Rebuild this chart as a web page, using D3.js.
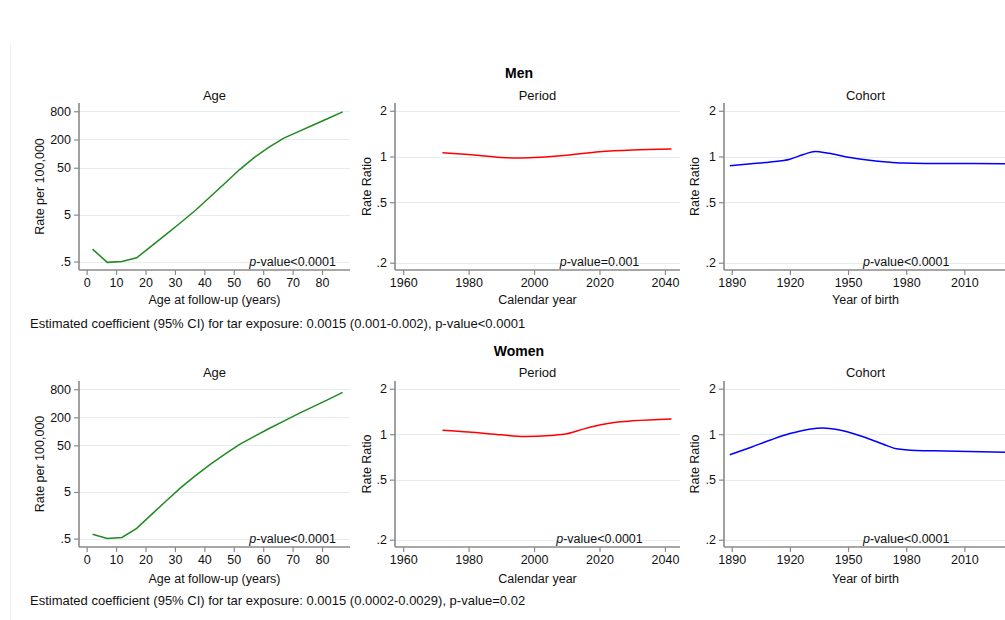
<!DOCTYPE html>
<html>
<head>
<meta charset="utf-8">
<script src="https://cdn.jsdelivr.net/npm/d3@7"></script>
<style>
  html, body { margin: 0; padding: 0; background: #fff; }
  svg { display: block; font-family: "Liberation Sans", Arial, sans-serif; }
</style>
</head>
<body>
<svg id="chart" width="1005" height="620"></svg>
<script>
// ---------- data ----------
const ageGroups = [2, 7, 12, 17, 22, 27, 32, 37, 42, 47, 52, 57, 62, 67, 72, 77, 82, 87];
const menAgeRate = [0.92, 0.48, 0.50, 0.60, 1.07, 1.9, 3.4, 6.2, 12, 23.4, 45.7, 83, 138, 214, 295, 407, 562, 776];
const womenAgeRate = [0.62, 0.50, 0.53, 0.83, 1.63, 3.2, 6.2, 11.2, 19.5, 32.4, 52.5, 78, 115, 166, 240, 339, 479, 684];

const menPeriodYear = [1972, 1980, 1990, 1995, 2000, 2010, 2020, 2030, 2042];
const menPeriodRR = [1.06, 1.03, 0.985, 0.978, 0.985, 1.02, 1.075, 1.105, 1.12];
const womenPeriodYear = [1972, 1980, 1990, 1997, 2005, 2010, 2015, 2020, 2025, 2030, 2042];
const womenPeriodRR = [1.063, 1.035, 0.99, 0.965, 0.98, 1.005, 1.08, 1.15, 1.20, 1.225, 1.26];

const menCohortYear = [1889, 1900, 1910, 1920, 1927, 1933, 1940, 1950, 1960, 1970, 1978, 1990, 2010, 2031];
const menCohortRR = [0.87, 0.895, 0.92, 0.96, 1.03, 1.08, 1.05, 0.99, 0.95, 0.92, 0.905, 0.90, 0.90, 0.895];
const womenCohortYear = [1889, 1900, 1910, 1920, 1930, 1937, 1945, 1950, 1960, 1970, 1975, 1985, 2000, 2031];
const womenCohortRR = [0.73, 0.82, 0.915, 1.01, 1.08, 1.10, 1.07, 1.035, 0.94, 0.84, 0.80, 0.78, 0.775, 0.76];

const ageTicks = [0, 10, 20, 30, 40, 50, 60, 70, 80];
const periodTicks = [1960, 1980, 2000, 2020, 2040];
const cohortTicks = [1890, 1920, 1950, 1980, 2010];
const rateTicks = [0.5, 5, 50, 200, 800];
const rateTickLabels = [".5", "5", "50", "200", "800"];
const rrTicks = [0.2, 0.5, 1, 2];
const rrTickLabels = [".2", ".5", "1", "2"];

const rowTitles = ["Men", "Women"];
const panelTitles = ["Age", "Period", "Cohort"];
const xTitles = ["Age at follow-up (years)", "Calendar year", "Year of birth"];
const yTitles = ["Rate per 100,000", "Rate Ratio", "Rate Ratio"];
const menPvalues = ["<0.0001", "=0.001", "<0.0001"];
const womenPvalues = ["<0.0001", "<0.0001", "<0.0001"];
const footnotes = [
  "Estimated coefficient (95% CI) for tar exposure: 0.0015 (0.001-0.002), p-value<0.0001",
  "Estimated coefficient (95% CI) for tar exposure: 0.0015 (0.0002-0.0029), p-value=0.02"
];

// ---------- layout ----------
const svg = d3.select("#chart");
const FONT = 12.5;
const gridColor = "#e4ecf0";
const axisColor = "#8a8a8a";

// faint frame line on the left
svg.append("line").attr("x1", 10.5).attr("x2", 10.5).attr("y1", 44).attr("y2", 620)
  .attr("stroke", "#eef1f3").attr("stroke-width", 1);

const cols = [
  { x0: 79, x1: 350, domain: [-2.6, 89.5], ticks: ageTicks, fmt: d => String(d), ydom: [0.33, 1200], yticks: rateTicks, ylabels: rateTickLabels, ytitleX: 40, pAt: 70, color: "#1f8a1f", curve: d3.curveLinear },
  { x0: 395, x1: 680, domain: [1957.5, 2044.6], ticks: periodTicks, fmt: d => String(d), ydom: [0.179, 2.25], yticks: rrTicks, ylabels: rrTickLabels, ytitleX: 367, pAt: 2020, color: "#ff0000", curve: d3.curveMonotoneX },
  { x0: 724, x1: 1007, domain: [1886, 2032], ticks: cohortTicks, fmt: d => String(d), ydom: [0.179, 2.25], yticks: rrTicks, ylabels: rrTickLabels, ytitleX: 695, pAt: 1980, color: "#0000ff", curve: d3.curveMonotoneX }
];

const rows = [
  { top: 103, bottom: 270, titleY: 73, panelTitleY: 95, tickY: 282.5, xTitleY: 300, footY: 323,
    series: [[ageGroups, menAgeRate], [menPeriodYear, menPeriodRR], [menCohortYear, menCohortRR]], pv: menPvalues },
  { top: 381, bottom: 547, titleY: 351, panelTitleY: 372, tickY: 561, xTitleY: 579, footY: 600,
    series: [[ageGroups, womenAgeRate], [womenPeriodYear, womenPeriodRR], [womenCohortYear, womenCohortRR]], pv: womenPvalues }
];

rows.forEach((row, ri) => {
  svg.append("text").attr("x", 519).attr("y", row.titleY).attr("dy", "0.35em")
    .attr("text-anchor", "middle").attr("font-weight", "bold").attr("font-size", 14)
    .attr("fill", "#000").text(rowTitles[ri]);

  cols.forEach((c, ci) => {
    const x = d3.scaleLinear().domain(c.domain).range([c.x0, c.x1]);
    const y = d3.scaleLog().domain(c.ydom).range([row.bottom, row.top]);
    const g = svg.append("g");

    // panel title
    g.append("text").attr("x", (c.x0 + c.x1) / 2).attr("y", row.panelTitleY).attr("dy", "0.35em")
      .attr("text-anchor", "middle").attr("font-size", 13).attr("fill", "#111").text(panelTitles[ci]);

    // gridlines
    g.selectAll("line.grid").data(c.yticks).join("line").attr("class", "grid")
      .attr("x1", c.x0).attr("x2", c.x1)
      .attr("y1", d => Math.round(y(d)) + 0.5).attr("y2", d => Math.round(y(d)) + 0.5)
      .attr("stroke", gridColor).attr("stroke-width", 1);

    // y axis
    const yAxis = d3.axisLeft(y).tickValues(c.yticks)
      .tickFormat((d, i) => c.ylabels[i]).tickSize(5).tickPadding(3);
    const ya = g.append("g").attr("transform", `translate(${c.x0},0)`).call(yAxis);
    ya.select(".domain").attr("stroke", axisColor).attr("stroke-width", 1.6)
      .attr("d", `M0,${row.top}V${row.bottom}`);
    ya.selectAll(".tick line").attr("stroke", axisColor).attr("stroke-width", 1.2);
    ya.selectAll(".tick text").attr("font-size", FONT).attr("fill", "#111")
      .attr("font-family", "Liberation Sans, Arial, sans-serif");

    // x axis
    const xAxis = d3.axisBottom(x).tickValues(c.ticks).tickFormat(c.fmt).tickSize(5).tickPadding(3);
    const xa = g.append("g").attr("transform", `translate(0,${row.bottom})`).call(xAxis);
    xa.select(".domain").attr("stroke", axisColor).attr("stroke-width", 1.6)
      .attr("d", `M${c.x0},0H${c.x1}`);
    xa.selectAll(".tick line").attr("stroke", axisColor).attr("stroke-width", 1.2);
    xa.selectAll(".tick text").attr("font-size", FONT).attr("fill", "#111")
      .attr("font-family", "Liberation Sans, Arial, sans-serif");

    // axis titles
    g.append("text").attr("x", (c.x0 + c.x1) / 2).attr("y", row.xTitleY).attr("dy", "0.35em")
      .attr("text-anchor", "middle").attr("font-size", FONT).attr("fill", "#111").text(xTitles[ci]);
    g.append("text").attr("transform", `translate(${c.ytitleX},${(row.top + row.bottom) / 2}) rotate(-90)`)
      .attr("dy", "0.35em").attr("text-anchor", "middle").attr("font-size", FONT).attr("fill", "#111")
      .text(yTitles[ci]);

    // curve
    const [xs, vs] = row.series[ci];
    const pts = xs.map((d, i) => [d, vs[i]]);
    g.append("path").datum(pts)
      .attr("d", d3.line().x(d => x(d[0])).y(d => y(d[1])).curve(c.curve))
      .attr("fill", "none").attr("stroke", c.color).attr("stroke-width", 1.5);

    // p-value annotation
    const t = g.append("text").attr("x", x(c.pAt)).attr("y", row.bottom - 4)
      .attr("text-anchor", "middle").attr("font-size", FONT).attr("fill", "#111");
    t.append("tspan").attr("font-style", "italic").text("p");
    t.append("tspan").text("-value" + row.pv[ci]);
  });

  svg.append("text").attr("x", 30).attr("y", row.footY).attr("dy", "0.35em")
    .attr("font-size", 13).attr("fill", "#111").text(footnotes[ri]);
});
</script>
</body>
</html>
